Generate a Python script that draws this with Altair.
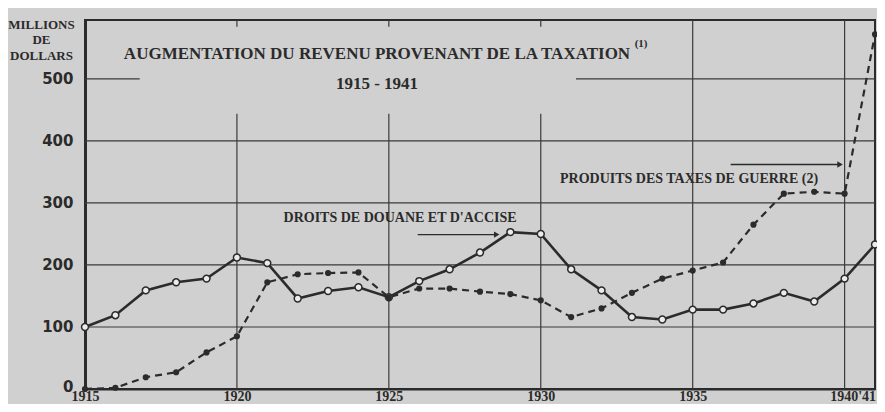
import altair as alt
import pandas as pd

# ---------------- data ----------------
years = list(range(1915, 1942))
customs_excise = [100, 119, 159, 172, 178, 212, 203, 146, 158, 164, 148, 174, 193, 220,
                  253, 250, 193, 159, 116, 112, 128, 128, 138, 155, 141, 178, 233]
war_taxes = [0, 2, 19, 27, 59, 85, 172, 185, 187, 188, 148, 162, 162, 157,
             153, 143, 116, 130, 155, 178, 191, 204, 265, 315, 318, 315, 572]

label_customs = "DROITS DE DOUANE ET D'ACCISE"
label_war = "PRODUITS DES TAXES DE GUERRE (2)"

y_ticks = [0, 100, 200, 300, 400, 500]
x_ticks = [1915, 1920, 1925, 1930, 1935, 1940]

# grid (in data units); some lines are interrupted by the title block
full_h_grid = [100, 200, 300, 400]
full_v_grid = [1935, 1940]
broken_v_grid = [1920, 1925, 1930]
grid_500_segments = [(1915, 1916.8), (1931.16, 1941)]
v_gap = (444, 584)

# annotations (data units)
ann_text = [label_customs, label_war]
ann_x = [1925.37, 1934.88]
ann_y = [275, 338]
arrow_x1 = [1925.95, 1936.25]
arrow_x2 = [1928.55, 1939.85]
arrow_y = [249, 362]

INK = "#2b2b2b"
PAPER = "#d0d0d0"
SERIF = "Liberation Serif"

YMAX = 595

# ---------------- tables ----------------
df = pd.DataFrame({"year": years, "customs": customs_excise, "war": war_taxes})

h_full = pd.DataFrame({"y": full_h_grid})
v_full = pd.DataFrame({"x": full_v_grid})
h_seg = pd.DataFrame({"x": [a for a, b in grid_500_segments],
                      "x2": [b for a, b in grid_500_segments],
                      "y": [500] * len(grid_500_segments)})
v_rows = []
for gx in broken_v_grid:
    v_rows.append({"x": gx, "y": 0, "y2": v_gap[0]})
    v_rows.append({"x": gx, "y": v_gap[1], "y2": YMAX})
v_seg = pd.DataFrame(v_rows)

ann = pd.DataFrame({"text": ann_text, "x": ann_x, "y": ann_y})
arrows = pd.DataFrame({"x": arrow_x1, "x2": arrow_x2, "y": arrow_y})
note = pd.DataFrame({"text": ["(1)"], "x": [1933.3], "y": [556]})

# ---------------- scales & axes ----------------
xs = alt.Scale(domain=[1915, 1941], nice=False, zero=False)
ys = alt.Scale(domain=[0, YMAX], nice=False, zero=True)

x_axis = alt.Axis(
    values=x_ticks, grid=False, ticks=False, domain=True, domainColor=INK, domainWidth=2,
    labelFont=SERIF, labelFontWeight="bold", labelFontSize=14, labelColor=INK,
    labelPadding=0, labelBaseline="top", labelFlush=False, labelOverlap=False,
    labelExpr="datum.value == 1940 ? \"1940'41\" : datum.label",
    labelOffset={"condition": {"test": "datum.value == 1940", "value": 8}, "value": 0},
    format="d", title=None,
)
y_axis = alt.Axis(
    values=y_ticks, grid=False, ticks=False, domain=True, domainColor=INK, domainWidth=3,
    labelFont="DejaVu Sans", labelFontWeight="bold", labelFontSize=15, labelColor=INK,
    labelPadding=12,
    labelOffset={"condition": {"test": "datum.value == 0", "value": -3}, "value": 0},
    title=["MILLIONS", "DE", "DOLLARS"], titleAngle=0, titleAlign="center",
    titleBaseline="top", titleX=-44, titleY=-2, titleFont=SERIF, titleFontSize=13,
    titleFontWeight="bold", titleColor=INK, titleLineHeight=15.5,
)


def X(field):
    return alt.X(field, type="quantitative", scale=xs, axis=x_axis)


def Y(field):
    return alt.Y(field, type="quantitative", scale=ys, axis=y_axis)


grid_style = dict(color="#3a3a3a", strokeWidth=1.2)

g1 = alt.Chart(h_full).mark_rule(**grid_style).encode(y=Y("y"))
g2 = alt.Chart(v_full).mark_rule(**grid_style).encode(x=X("x"))
g3 = alt.Chart(h_seg).mark_rule(**grid_style).encode(x=X("x"), x2="x2", y=Y("y"))
g4 = alt.Chart(v_seg).mark_rule(**grid_style).encode(x=X("x"), y=Y("y"), y2="y2")

base = alt.Chart(df)
war_line = base.mark_line(color=INK, strokeWidth=2.2, strokeDash=[7, 5]).encode(
    x=X("year"), y=Y("war"))
cust_line = base.mark_line(color=INK, strokeWidth=2.6).encode(
    x=X("year"), y=Y("customs"))
cust_pts = base.mark_point(shape="circle", filled=True, fill="#ececec", stroke=INK,
                           strokeWidth=1.5, size=48, opacity=1).encode(
    x=X("year"), y=Y("customs"))
war_pts = base.mark_point(shape="circle", filled=True, fill=INK, size=38, opacity=1).encode(
    x=X("year"), y=Y("war"))

ann_layer = alt.Chart(ann).mark_text(font=SERIF, fontSize=14, fontWeight="bold",
                                     color=INK, baseline="middle").encode(
    x=X("x"), y=Y("y"), text="text")
note_layer = alt.Chart(note).mark_text(font=SERIF, fontSize=11, fontWeight="bold",
                                       color=INK, baseline="middle").encode(
    x=X("x"), y=Y("y"), text="text")
arrow_lines = alt.Chart(arrows).mark_rule(color=INK, strokeWidth=1.4).encode(
    x=X("x"), x2="x2", y=Y("y"))
arrow_heads = alt.Chart(arrows).mark_point(shape="triangle-right", filled=True, fill=INK,
                                           size=40, opacity=1).encode(
    x=X("x2"), y=Y("y"))

chart = alt.layer(
    g1, g2, g3, g4, war_line, cust_line, cust_pts, war_pts,
    ann_layer, note_layer, arrow_lines, arrow_heads,
).properties(
    width=790, height=369,
    autosize="none",
    padding={"left": 77, "top": 12, "right": 2, "bottom": 15},
    background=PAPER,
    title=alt.TitleParams(
        text="AUGMENTATION DU REVENU PROVENANT DE LA TAXATION",
        subtitle="1915 - 1941",
        anchor="middle", dx=-103, dy=79,
        font=SERIF, fontSize=17, fontWeight="bold", color=INK,
        subtitleFont=SERIF, subtitleFontSize=17, subtitleFontWeight="bold",
        subtitleColor=INK, subtitlePadding=13,
    ),
).configure_view(stroke=INK, strokeWidth=2)

chart.save("out.html", embed_options={"renderer": "svg", "actions": False})
